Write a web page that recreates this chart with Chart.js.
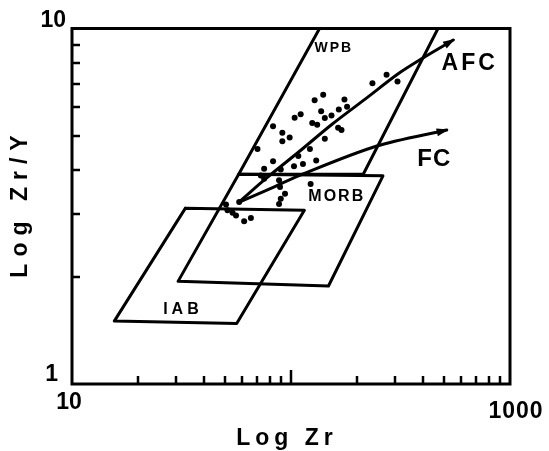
<!DOCTYPE html>
<html>
<head>
<meta charset="utf-8">
<script src="https://cdn.jsdelivr.net/npm/chart.js@4/dist/chart.umd.min.js"></script>
<style>
  html, body { margin: 0; padding: 0; background: #fff; }
  #wrap { width: 549px; height: 451px; }
</style>
</head>
<body>
<div id="wrap"><canvas id="chart"></canvas></div>
<script>
// --- Field outlines (Zr ppm, Zr/Y) ---
const wpbZr = [135, 57.7, 213.8, 469];
const wpbRatio = [10, 3.89, 3.89, 10];
const morbZr = [57.7, 263, 148.3, 30.5];
const morbRatio = [3.89, 3.85, 1.887, 1.944];
const iabZr = [32.9, 115.1, 56.5, 15.6];
const iabRatio = [3.12, 3.08, 1.479, 1.503];

// --- Model curves ---
const afcZr = [58.0, 76.7, 108.7, 153.5, 218.8, 309.7, 392.6, 550.8];
const afcRatio = [3.25, 3.78, 4.50, 5.37, 6.34, 7.47, 8.20, 9.28];
const fcZr = [58.0, 76.7, 110.4, 246.6, 514];
const fcRatio = [3.25, 3.50, 3.87, 4.67, 5.18];

// --- Samples ---
const sampleZr = [140.3, 128.2, 175.4, 235.4, 273.2, 306.4, 137.3, 165.3, 180.3, 110.7,
  103.9, 142.7, 153.1, 125.0, 131.7, 164.1, 170.1, 82.8, 91.3, 98.6,
  91.3, 142.7, 70.3, 108.0, 122.0, 82.8, 130.3, 103.2, 113.4, 75.4,
  89.8, 72.8, 75.4, 88.2, 89.1, 93.9, 89.8, 88.2, 122.9, 50.5,
  51.3, 54.1, 56.1, 61.1, 65.6, 58.0];
const sampleRatio = [6.51, 6.28, 6.31, 7.02, 7.41, 7.10, 5.85, 5.92, 6.02, 5.74,
  5.61, 5.60, 5.69, 5.42, 5.36, 5.26, 5.18, 5.31, 5.09, 4.94,
  4.82, 4.90, 4.58, 4.38, 4.58, 4.23, 4.25, 4.10, 4.16, 4.03,
  4.01, 3.86, 3.78, 3.74, 3.58, 3.43, 3.32, 3.21, 3.65, 3.20,
  3.08, 3.03, 2.98, 2.87, 2.93, 3.25];

// --- Field names and where they sit (data coords) ---
const fieldNames = ['WPB', 'MORB', 'IAB', 'AFC', 'FC'];
const fieldZr = [156.9, 161.8, 32.1, 654.7, 451.3];
const fieldRatio = [8.83, 3.36, 1.62, 7.94, 4.29];

// --- Axis ticks ---
const xMinorTicks = [20, 30, 40, 50, 60, 70, 80, 90, 200, 300, 400, 500, 600, 700, 800, 900];
const xMajorTicks = [100];
const yMinorTicks = [2, 3, 4, 5, 6, 7, 8, 9];
const xTickLabels = ['10', '1000'];
const yTickLabels = ['1', '10'];

const FONT = '"Liberation Sans", Arial, sans-serif';
const fieldFonts = {
    WPB: { size: 14, spacing: 2 },
    MORB: { size: 16, spacing: 2 },
    IAB: { size: 16, spacing: 4 },
    AFC: { size: 23, spacing: 3 },
    FC: { size: 24, spacing: 1 }
};

function toPoints(xs, ys, close) {
    const pts = xs.map((v, i) => ({ x: v, y: ys[i] }));
    if (close) pts.push(pts[0]);
    return pts;
}

function outline(label, xs, ys, close, extra) {
    return Object.assign({
        label: label,
        data: toPoints(xs, ys, close),
        showLine: true,
        borderColor: '#000',
        borderWidth: 3,
        borderJoinStyle: 'round',
        borderCapStyle: 'round',
        pointRadius: 0,
        fill: false,
        tension: 0
    }, extra || {});
}

// frame, ticks, labels
const framePlugin = {
    id: 'frame',
    afterDraw(chart) {
        const { ctx, chartArea: a, scales: { x, y } } = chart;
        ctx.save();
        ctx.strokeStyle = '#000';
        ctx.fillStyle = '#000';
        ctx.lineWidth = 3;
        ctx.lineJoin = 'miter';
        ctx.strokeRect(a.left, a.top, a.right - a.left, a.bottom - a.top);

        // short inward ticks
        ctx.lineWidth = 2.5;
        ctx.lineCap = 'butt';
        ctx.beginPath();
        xMinorTicks.forEach(v => {
            const px = Math.round(x.getPixelForValue(v));
            ctx.moveTo(px, a.bottom); ctx.lineTo(px, a.bottom - 8);
        });
        xMajorTicks.forEach(v => {
            const px = Math.round(x.getPixelForValue(v));
            ctx.moveTo(px, a.bottom); ctx.lineTo(px, a.bottom - 14);
        });
        yMinorTicks.forEach(v => {
            const py = Math.round(y.getPixelForValue(v));
            ctx.moveTo(a.left, py); ctx.lineTo(a.left + 8, py);
        });
        ctx.stroke();

        // tick labels
        ctx.font = 'bold 23px ' + FONT;
        ctx.textBaseline = 'middle';
        ctx.textAlign = 'right';
        ctx.fillText(yTickLabels[1], a.left - 6, a.top - 8);
        ctx.fillText(yTickLabels[0], a.left - 14, a.bottom - 9);
        ctx.textAlign = 'center';
        ctx.fillText(xTickLabels[0], a.left - 3, a.bottom + 19);
        ctx.letterSpacing = '1px';
        ctx.fillText(xTickLabels[1], a.right + 6, a.bottom + 28);

        // axis titles
        ctx.font = 'bold 23px ' + FONT;
        ctx.letterSpacing = '5px';
        ctx.fillText('Log Zr', (a.left + a.right) / 2 - 4, a.bottom + 55);
        ctx.save();
        ctx.translate(21, 203);
        ctx.rotate(-Math.PI / 2);
        ctx.letterSpacing = '7px';
        ctx.fillText('Log Zr/Y', 0, 0);
        ctx.restore();

        // field names
        fieldNames.forEach((name, i) => {
            const f = fieldFonts[name];
            ctx.font = 'bold ' + f.size + 'px ' + FONT;
            ctx.letterSpacing = f.spacing + 'px';
            ctx.fillText(name, x.getPixelForValue(fieldZr[i]), y.getPixelForValue(fieldRatio[i]));
        });
        ctx.restore();
    }
};

// arrowheads at the end of the model curves
const arrowPlugin = {
    id: 'arrows',
    afterDatasetsDraw(chart) {
        const ctx = chart.ctx;
        chart.data.datasets.forEach((ds, i) => {
            if (!ds.arrow) return;
            const pts = chart.getDatasetMeta(i).data;
            const p1 = pts[pts.length - 2], p2 = pts[pts.length - 1];
            const ang = Math.atan2(p2.y - p1.y, p2.x - p1.x);
            const len = 10, half = 4;
            ctx.save();
            ctx.translate(p2.x, p2.y);
            ctx.rotate(ang);
            ctx.beginPath();
            ctx.moveTo(2, 0);
            ctx.lineTo(-len, -half);
            ctx.lineTo(-len, half);
            ctx.closePath();
            ctx.fillStyle = '#000';
            ctx.fill();
            ctx.restore();
        });
    }
};

new Chart(document.getElementById('chart'), {
    type: 'scatter',
    data: {
        datasets: [
            outline('WPB', wpbZr, wpbRatio, false),
            outline('MORB', morbZr, morbRatio, true),
            outline('IAB', iabZr, iabRatio, true),
            outline('AFC', afcZr, afcRatio, false, { tension: 0.3, arrow: true }),
            outline('FC', fcZr, fcRatio, false, { tension: 0.3, arrow: true }),
            {
                label: 'samples',
                data: toPoints(sampleZr, sampleRatio, false),
                pointRadius: 3,
                pointBackgroundColor: '#000',
                pointBorderWidth: 0,
                showLine: false
            }
        ]
    },
    options: {
        responsive: true,
        maintainAspectRatio: false,
        animation: false,
        layout: { padding: { left: 72, right: 39, top: 28.5, bottom: 67 } },
        scales: {
            x: { type: 'logarithmic', min: 10, max: 1000, display: false },
            y: { type: 'logarithmic', min: 1, max: 10, display: false }
        },
        plugins: {
            legend: { display: false },
            tooltip: { enabled: false }
        }
    },
    plugins: [framePlugin, arrowPlugin]
});
</script>
</body>
</html>
